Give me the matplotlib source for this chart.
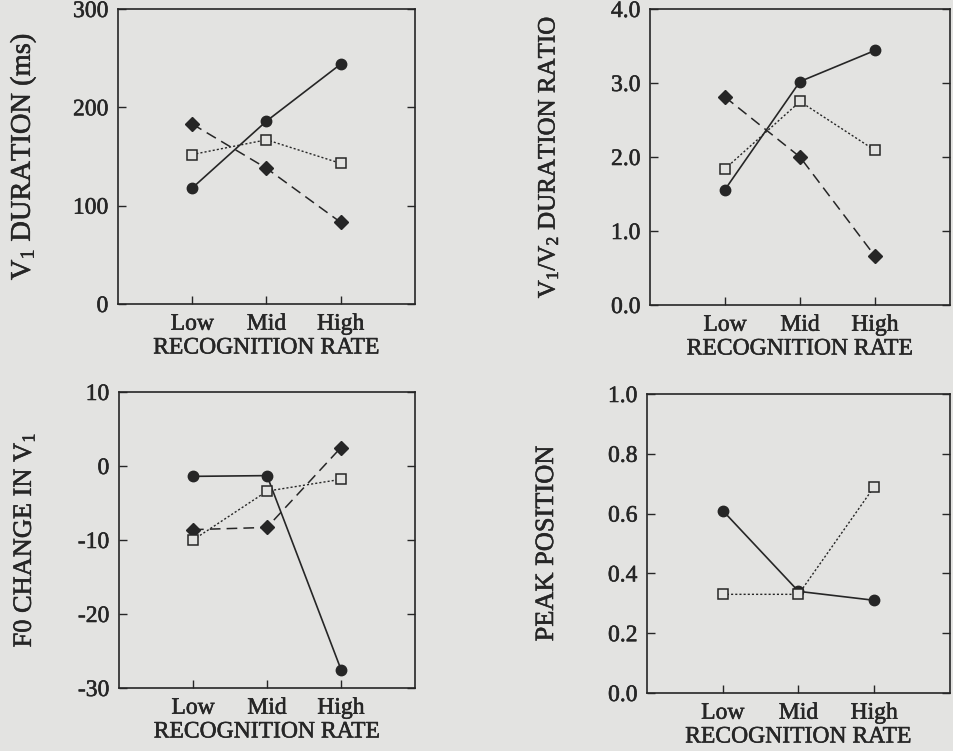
import matplotlib
matplotlib.use("Agg")
import matplotlib.pyplot as plt
import matplotlib.patheffects as pe

categories = ["Low", "Mid", "High"]

# Panel 1: V1 duration (ms)
dur_circle = [118, 186, 244]
dur_diamond = [183, 138, 83]
dur_square = [152, 167, 143]

# Panel 2: V1/V2 duration ratio
ratio_circle = [1.56, 3.02, 3.44]
ratio_diamond = [2.81, 2.00, 0.66]
ratio_square = [1.84, 2.75, 2.09]

# Panel 3: F0 change in V1
f0_circle = [-1.4, -1.3, -27.5]
f0_diamond = [-8.6, -8.3, 2.5]
f0_square = [-10.0, -3.4, -1.8]

# Panel 4: peak position
peak_circle = [0.61, 0.34, 0.31]
peak_square = [0.33, 0.33, 0.69]

bg = "#e3e3e1"
ink = "#262626"
plt.rcParams["font.family"] = ["Liberation Serif", "DejaVu Serif"]
plt.rcParams["mathtext.fontset"] = "custom"
plt.rcParams["mathtext.rm"] = "Liberation Serif"
plt.rcParams["mathtext.it"] = "Liberation Serif"

heavy = [pe.withStroke(linewidth=0.4, foreground=ink)]

fig = plt.figure(figsize=(9.54, 7.51), dpi=100, facecolor=bg)
W, H = 954, 751

def add_axes(x0, y0, x1, y1):
    return fig.add_axes([x0 / W, 1 - y1 / H, (x1 - x0) / W, (y1 - y0) / H])

panels = [
    (add_axes(118, 9, 415, 304), [dur_circle, dur_diamond, dur_square],
     (0, 300), [0, 100, 200, 300], ["0", "100", "200", "300"],
     "V$_1$ DURATION (ms)", 20.5, -0.32),
    (add_axes(650, 9, 950, 305), [ratio_circle, ratio_diamond, ratio_square],
     (0, 4), [0, 1, 2, 3, 4], ["0.0", "1.0", "2.0", "3.0", "4.0"],
     "V$_1$/V$_2$ DURATION RATIO", 18, -0.34),
    (add_axes(119, 392, 415, 688), [f0_circle, f0_diamond, f0_square],
     (-30, 10), [-30, -20, -10, 0, 10], ["-30", "-20", "-10", "0", "10"],
     "F0 CHANGE IN V$_1$", 19, -0.32),
    (add_axes(647, 394, 950, 693), [peak_circle, None, peak_square],
     (0, 1), [0, 0.2, 0.4, 0.6, 0.8, 1.0], ["0.0", "0.2", "0.4", "0.6", "0.8", "1.0"],
     "PEAK POSITION", 19, -0.33),
]

x = list(range(len(categories)))
for ax, series, ylim, yt, ytl, ylabel, ylfs, ylx in panels:
    ax.set_facecolor(bg)
    c, d, s = series
    ax.plot(x, c, color=ink, lw=1.2, ls="-", marker="o", ms=7.5,
            mfc=ink, mec=ink, zorder=3)
    if d is not None:
        ax.plot(x, d, color=ink, lw=1.1, ls=(0, (7, 4)), marker="D", ms=7,
                mfc=ink, mec=ink, zorder=3)
    ax.plot(x, s, color=ink, lw=1.0, ls=(0, (1.5, 1.5)), marker="s", ms=6.5,
            mfc=bg, mec=ink, mew=1.1, zorder=4)
    ax.set_xlim(-1, 3)
    ax.set_ylim(*ylim)
    ax.set_xticks(x)
    ax.set_xticklabels(categories, fontsize=17, color=ink)
    ax.set_yticks(yt)
    ax.set_yticklabels(ytl, fontsize=17, color=ink)
    ax.tick_params(direction="in", length=6, width=1.0, color=ink,
                   right=True, left=True, bottom=True, top=False, pad=7)
    ax.set_xlabel("RECOGNITION RATE", fontsize=17, color=ink, labelpad=2)
    ax.set_ylabel(ylabel, fontsize=ylfs, color=ink, va="center")
    ax.yaxis.set_label_coords(ylx, 0.5)
    for t in ax.get_xticklabels() + ax.get_yticklabels() + [ax.xaxis.label, ax.yaxis.label]:
        t.set_path_effects(heavy)
    for sp in ax.spines.values():
        sp.set_color(ink)
        sp.set_linewidth(1.2)

fig.savefig("out.png", dpi=100, facecolor=bg)
